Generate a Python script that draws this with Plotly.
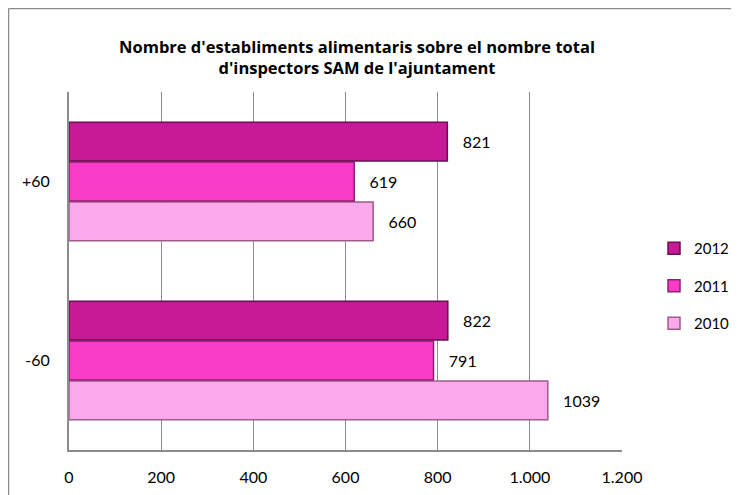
import plotly.graph_objects as go

categories = ["-60", "+60"]
years = ["2010", "2011", "2012"]
values_2010 = [1039, 660]
values_2011 = [791, 619]
values_2012 = [822, 821]
series = {"2010": values_2010, "2011": values_2011, "2012": values_2012}
colors = {"2010": "#FCA8EC", "2011": "#F93CC8", "2012": "#C71A96"}
edges = {"2010": "#9C5C8C", "2011": "#8E1F73", "2012": "#6A0F50"}
legend_rank = {"2012": 1, "2011": 2, "2010": 3}
x_ticks = [0, 200, 400, 600, 800, 1000, 1200]
x_tick_labels = ["0", "200", "400", "600", "800", "1.000", "1.200"]

FONT = "Lato, Open Sans, sans-serif"
L, R, T, B = 61, 125, 84, 53
W, H = 739, 495
PW, PH = W - L - R, H - T - B

fig = go.Figure()
for y in years:
    fig.add_trace(go.Bar(
        y=categories, x=series[y], name=y, orientation="h",
        legendgroup=y, legendrank=legend_rank[y],
        marker=dict(color=colors[y], line=dict(color=edges[y], width=1.5)),
        text=[str(v) for v in series[y]], texttemplate="   %{text}",
        textposition="outside",
        textfont=dict(family=FONT, size=16, color="#000000"),
        cliponaxis=False,
    ))

fig.update_layout(
    width=W, height=H,
    barmode="group", bargap=0.33, bargroupgap=0.03,
    plot_bgcolor="white", paper_bgcolor="white",
    margin=dict(l=L, r=R, t=T, b=B, autoexpand=False),
    font=dict(family=FONT, size=16, color="#000000"),
    title=dict(
        text="<b>Nombre d'establiments alimentaris sobre el nombre total<br>d'inspectors SAM de l'ajuntament</b>",
        x=349 / W, xanchor="center", y=1 - 45 / H, yanchor="top",
        font=dict(family="Open Sans, sans-serif", size=16.5, color="#000000"),
    ),
    legend=dict(
        xref="container", yref="container",
        x=646 / W, xanchor="left", y=1 - 278 / H, yanchor="middle",
        traceorder="grouped", font=dict(family=FONT, size=15),
        itemwidth=30, tracegroupgap=15, bgcolor="rgba(0,0,0,0)",
    ),
    separators=",.",
    showlegend=True,
)
fig.update_xaxes(
    range=[0, 1200], tickvals=x_ticks, ticktext=x_tick_labels,
    showgrid=True, gridcolor="#8C8C8C", gridwidth=1,
    showline=True, linecolor="#8C8C8C", linewidth=1.5,
    zeroline=False, ticks="", ticklen=0, ticklabelstandoff=12,
    tickfont=dict(family=FONT, size=16),
)
fig.update_yaxes(
    categoryorder="array", categoryarray=categories,
    showline=True, linecolor="#8C8C8C", linewidth=2,
    showgrid=False, ticks="", ticklabelstandoff=14,
    tickfont=dict(family=FONT, size=16),
)
# outer chart border (left and top edges visible in the crop)
top_y = 1 + (T - 0.5) / PH
left_x = -(L - 0.5) / PW
fig.add_shape(type="line", xref="paper", yref="paper",
              x0=left_x, x1=1.4, y0=top_y, y1=top_y,
              line=dict(color="#8C8C8C", width=1.5))
fig.add_shape(type="line", xref="paper", yref="paper",
              x0=left_x, x1=left_x, y0=top_y, y1=-0.3,
              line=dict(color="#8C8C8C", width=1.5))

fig.write_html("out.html")
